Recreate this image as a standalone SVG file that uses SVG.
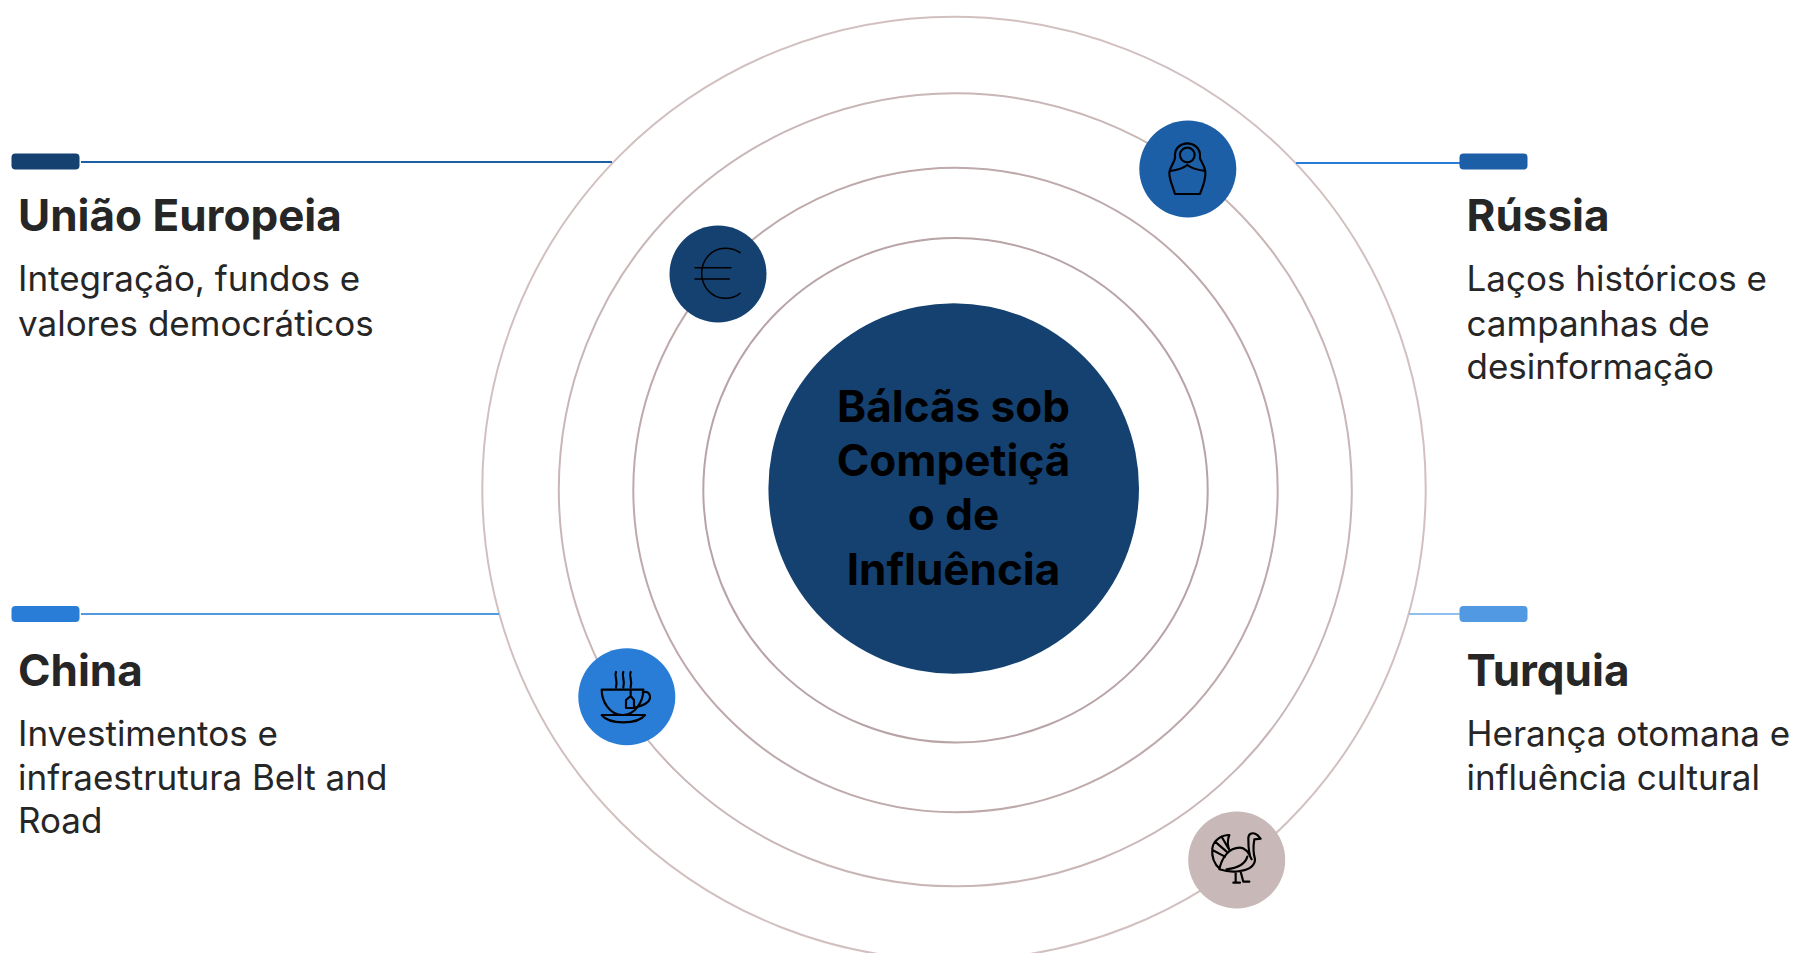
<svg xmlns="http://www.w3.org/2000/svg" width="1796" height="953" viewBox="0 0 1796 953">
<style>
text{font-family:Inter,"Noto Sans","Liberation Sans",sans-serif}
.t{font-size:44px;font-weight:700;fill:#262626}
.b{font-size:35px;font-weight:400;fill:#262626}
.c{font-size:44px;font-weight:700;fill:#000;text-anchor:middle}
.ring{fill:none;stroke-width:2}
.ic{fill:none;stroke:#000;stroke-width:6.500;stroke-linejoin:round;stroke-linecap:round}
</style>
<rect width="1796" height="953" fill="#fff"/>
<g id="rings">
<circle class="ring" stroke="#b8a3a6" cx="955.500" cy="490.300" r="252.200"/>
<circle class="ring" stroke="#bea9ab" cx="955.500" cy="490" r="322.200"/>
<circle class="ring" stroke="#c9b6b7" cx="955.300" cy="489.800" r="396.500"/>
<circle class="ring" stroke="#d2c0c0" cx="954" cy="488.400" r="471.700"/>
</g>
<g id="connectors" stroke-width="2" fill="none">
<path d="M81 162H612" stroke="#1c5fa6"/>
<path d="M1296 163H1460" stroke="#2a7dd6"/>
<path d="M81 614H499" stroke="#5199e2"/>
<path d="M1409 614H1460" stroke="#8fc1ee"/>
</g>
<g id="center">
<circle cx="953.700" cy="488.500" r="185.300" fill="#144170"/>
<text class="c" x="953.500" y="422">Bálcãs sob</text>
<text class="c" x="953.500" y="476">Competiçã</text>
<text class="c" x="953.500" y="530">o de</text>
<text class="c" x="953.500" y="584.500">Influência</text>
</g>
<g id="uniao-europeia">
<rect x="11.500" y="153.500" width="68" height="16" rx="4" fill="#144170"/>
<text class="t" x="18" y="231">União Europeia</text>
<text class="b" x="18" y="291">Integração, fundos e</text>
<text class="b" x="18" y="336">valores democráticos</text>
<circle cx="718" cy="274" r="48.500" fill="#144170"/>
<g transform="translate(650 210) scale(.3333)"><path class="ic" style="stroke-width:4.500" d="M270 128C255 118 240 115 225 115C185 115 155 150 155 190C155 230 185 265 225 265C240 265 258 262 270 250M135 173H243M135 207H238"/></g>
</g>
<g id="russia">
<rect x="1459.500" y="153.500" width="68" height="16" rx="4" fill="#1c5fa6"/>
<text class="t" x="1466.500" y="231">Rússia</text>
<text class="b" x="1466.500" y="291">Laços históricos e</text>
<text class="b" x="1466.500" y="336">campanhas de</text>
<text class="b" x="1466.500" y="379">desinformação</text>
<circle cx="1187.800" cy="169" r="48.500" fill="#1c5fa6"/>
<g transform="translate(1120 100) scale(.3333)"><path class="ic" d="M165 282H240C250 255 258 240 256 215C254 195 243 185 240 175V165C240 145 222 130 202 130C182 130 165 145 165 165V175C162 190 150 200 148 218C148 240 157 255 165 282ZM150 213C170 210 190 205 202 195C214 205 235 210 255 213"/><circle class="ic" cx="202" cy="165" r="22"/></g>
</g>
<g id="china">
<rect x="11.500" y="606" width="68" height="16" rx="4" fill="#2a7dd6"/>
<text class="t" x="18" y="686">China</text>
<text class="b" x="18" y="746">Investimentos e</text>
<text class="b" x="18" y="790">infraestrutura Belt and</text>
<text class="b" x="18" y="833">Road</text>
<circle cx="626.800" cy="696.800" r="48.500" fill="#2a7dd6"/>
<g transform="translate(560 630) scale(.3333)"><path class="ic" d="M168 126C162 138 174 148 168 172M190 126C184 138 196 148 190 172M212 126C206 138 218 148 212 172M125 179H250C250 215 225 255 188 255C150 255 125 215 125 179ZM248 188C265 180 272 195 270 205C265 222 245 228 225 232M212 180V198L222 210V234H198V210L212 198M125 255H255C245 268 225 277 190 277C155 277 135 268 125 255Z"/></g>
</g>
<g id="turquia">
<rect x="1459.500" y="606" width="68" height="16" rx="4" fill="#5199e2"/>
<text class="t" x="1466.500" y="686">Turquia</text>
<text class="b" x="1466.500" y="746">Herança otomana e</text>
<text class="b" x="1466.500" y="790">influência cultural</text>
<circle cx="1236.700" cy="860" r="48.500" fill="#c8b8b8"/>
<g transform="translate(1170 800) scale(.3333)"><path class="ic" d="M245 178C235 165 235 130 235 115C235 100 250 95 262 105L272 116L253 118C250 135 250 160 255 178C255 195 240 210 210 213C190 217 170 215 148 208C155 175 175 143 210 143C225 143 235 155 245 178ZM170 208C195 205 225 195 232 170M150 207C130 190 125 165 127 145C130 120 155 105 178 105C172 120 172 135 178 150M127 150L165 170M135 125L170 155M155 110L175 145M197 218V248M190 248H210M212 215L220 245H238"/></g>
</g>
</svg>
